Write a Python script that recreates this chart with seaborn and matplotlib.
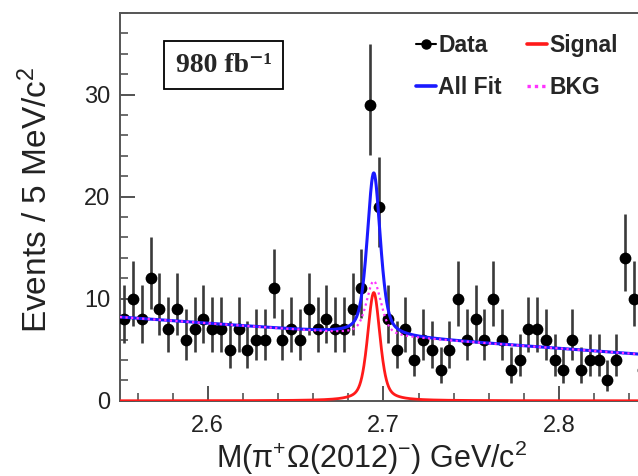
import numpy as np
import pandas as pd
import matplotlib
matplotlib.use('Agg')
import matplotlib.pyplot as plt
from matplotlib.lines import Line2D
from matplotlib.ticker import MultipleLocator
import seaborn as sns

# Binned data, 5 MeV bins starting at 2.55 GeV
bin_lo = 2.55
bin_width = 0.005
counts = [8, 10, 8, 12, 9, 7, 9, 6, 7, 8, 7, 7, 5, 7, 5, 6, 6, 11, 6, 7,
          6, 9, 7, 8, 7, 7, 9, 11, 29, 19, 8, 5, 7, 4, 6, 5, 3, 5, 10, 6,
          8, 6, 10, 6, 3, 4, 7, 7, 6, 4, 3, 6, 3, 4, 4, 2, 4, 14, 10, 3]

# Fit parameters (pseudo-Voigt peaks on a linear background)
peak_mass = 2.6945
sig_height = 10.6
sig_hwhm = 0.0042
bkg_peak_height = 5.3
bkg_peak_hwhm = 0.005
lorentz_frac = 0.5
bkg_at_lo = 8.2
bkg_slope = -12.3

x_range = (2.55, 2.85)
y_range = (0, 38)
x_ticks = [2.6, 2.7, 2.8]
y_ticks = [0, 10, 20, 30]

sns.set_style('ticks')
plt.rcParams['font.family'] = ['Liberation Sans', 'DejaVu Sans']
plt.rcParams['mathtext.fontset'] = 'custom'
plt.rcParams['mathtext.rm'] = 'Liberation Sans'
plt.rcParams['mathtext.it'] = 'Liberation Sans:italic'
plt.rcParams['mathtext.bf'] = 'Liberation Sans:bold'


def peak_shape(x, height, hwhm):
    d = x - peak_mass
    sigma = 2 * hwhm / 2.3548
    lor = hwhm**2 / (d**2 + hwhm**2)
    gau = np.exp(-0.5 * (d / sigma)**2)
    return height * (lorentz_frac * lor + (1 - lorentz_frac) * gau)


n = np.array(counts, dtype=float)
centers = bin_lo + bin_width * (np.arange(len(n)) + 0.5)
err_lo = np.sqrt(n + 0.25) - 0.5
err_hi = np.sqrt(n + 0.25) + 0.5
data = pd.DataFrame({'mass': centers, 'events': n})

xs = np.linspace(x_range[0], x_range[1], 1500)
signal = peak_shape(xs, sig_height, sig_hwhm)
bkg = bkg_at_lo + bkg_slope * (xs - bin_lo) + peak_shape(xs, bkg_peak_height, bkg_peak_hwhm)
total = signal + bkg
curves = pd.DataFrame({'mass': xs, 'signal': signal, 'bkg': bkg, 'total': total})

fig = plt.figure(figsize=(6.38, 4.76), dpi=100)
ax = fig.add_axes([0.188, 0.158, 0.826, 0.815])

ax.errorbar(centers, n, yerr=[err_lo, err_hi], fmt='none', ecolor='#3a3a3a',
            elinewidth=1.9, zorder=3)
sns.scatterplot(data=data, x='mass', y='events', ax=ax, color='black', s=72,
                edgecolor='black', linewidth=0, zorder=4)
sns.lineplot(data=curves, x='mass', y='signal', ax=ax, color='#ff1a1a', lw=2.0, zorder=5)
sns.lineplot(data=curves, x='mass', y='total', ax=ax, color='#1a1aff', lw=2.2, zorder=6)
sns.lineplot(data=curves, x='mass', y='bkg', ax=ax, color='#ff33ff', lw=1.6,
             ls=(0, (1, 1.5)), zorder=7)

ax.set_xlim(*x_range)
ax.set_ylim(*y_range)
ax.set_xticks(x_ticks)
ax.set_yticks(y_ticks)
ax.xaxis.set_minor_locator(MultipleLocator(0.02))
ax.yaxis.set_minor_locator(MultipleLocator(2))
ax.tick_params(which='major', direction='in', length=11, width=1.3, color='#444444',
               labelsize=17, labelcolor='#222222')
ax.tick_params(which='minor', direction='in', length=6, width=1.1, color='#444444')
ax.tick_params(axis='x', which='major', pad=10)
ax.tick_params(axis='y', which='major', pad=7)

for side in ['left', 'bottom', 'top']:
    ax.spines[side].set_visible(True)
    ax.spines[side].set_color('#555555')
    ax.spines[side].set_linewidth(1.4)
ax.spines['right'].set_visible(False)

ax.set_xlabel(r'M(π$^{+}$Ω(2012)$^{-}$) GeV/c$^{2}$', fontsize=22, color='#222222')
ax.set_ylabel(r'Events / 5 MeV/c$^{2}$', fontsize=24, color='#222222')
ax.xaxis.set_label_coords(0.478, -0.098)
ax.yaxis.set_label_coords(-0.124, 0.517)

ax.text(0.197, 0.865, '980 fb⁻¹', transform=ax.transAxes, ha='center', va='center',
        fontsize=20, fontweight='bold', family=['Liberation Serif', 'DejaVu Serif'],
        bbox=dict(boxstyle='square,pad=0.42', facecolor='white', edgecolor='black', lw=1.3))

handles = [Line2D([], [], color='black', marker='o', ms=6.5, lw=1.5),
           Line2D([], [], color='#1a1aff', lw=2.6),
           Line2D([], [], color='#ff1a1a', lw=2.6),
           Line2D([], [], color='#ff33ff', lw=2.4, ls=(0, (1, 1.2)))]
labels = ['Data', 'All Fit', 'Signal', 'BKG']
fig.legend(handles, labels, loc='upper left', bbox_to_anchor=(0.62, 0.972), ncol=2,
           frameon=False, handlelength=0.85, handletextpad=0.12, columnspacing=1.1,
           labelspacing=0.85, prop={'family': 'Liberation Sans', 'weight': 'bold', 'size': 16.5})

fig.savefig('out.png', dpi=100)
